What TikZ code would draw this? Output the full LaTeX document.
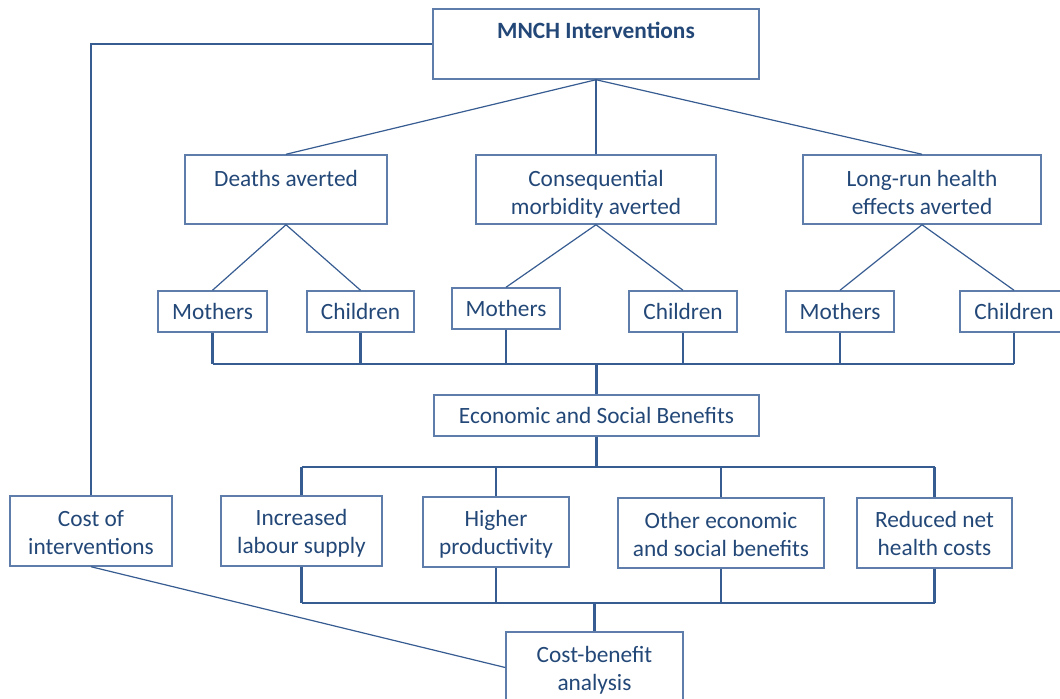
\documentclass[tikz,border=0pt]{standalone}
\usepackage{fontspec}
\setmainfont{Carlito}
\definecolor{textc}{RGB}{35,72,120}
\definecolor{boxc}{RGB}{95,125,170}
\definecolor{linec}{RGB}{55,92,145}
\newcommand{\tstrut}[1]{\rule{0pt}{#1}}
\begin{document}
\begin{tikzpicture}[x=0.75pt,y=-0.75pt,
  box/.style={draw=boxc,line width=1.1pt,fill=white,inner sep=0pt,align=center,
    text=textc,font=\fontsize{17.5}{21}\selectfont},
  thin/.style={draw=linec,line width=0.9pt},
  bus/.style={draw=linec,line width=1.7pt}]
\useasboundingbox (0,0) rectangle (1060,699);
\clip (0,0) rectangle (1060,699);
% nodes
\node[box,minimum width=244.5pt,minimum height=52.5pt] (mnch) at (596,44) {\textbf{MNCH Interventions}\\\mbox{}};
\node[box,minimum width=151.5pt,minimum height=51.75pt] (deaths) at (286,189.5) {\tstrut{16pt}Deaths averted\\\mbox{}};
\node[box,minimum width=180pt,minimum height=51.75pt] (morb) at (596,189.5) {\tstrut{19pt}Consequential\\morbidity averted};
\node[box,minimum width=178.5pt,minimum height=51.75pt] (longrun) at (922,189.5) {\tstrut{16pt}Long-run health\\effects averted};
\node[box,minimum width=81.75pt,minimum height=30.75pt] (m1) at (212.5,311.5) {Mothers};
\node[box,minimum width=80.25pt,minimum height=30.75pt] (c1) at (360.5,311.5) {Children};
\node[box,minimum width=81pt,minimum height=30.75pt] (m2) at (506,308.5) {Mothers};
\node[box,minimum width=81pt,minimum height=30.75pt] (c2) at (683,311.5) {Children};
\node[box,minimum width=81pt,minimum height=30.75pt] (m3) at (840,311.5) {Mothers};
\node[box,minimum width=81pt,minimum height=30.75pt] (c3) at (1014,311.5) {Children};
\node[box,minimum width=243.75pt,minimum height=30.75pt] (econ) at (596.5,415.5) {Economic and Social Benefits};
\node[box,minimum width=121.5pt,minimum height=52.5pt] (cost) at (91,531) {\tstrut{15pt}Cost of\\interventions};
\node[box,minimum width=120.75pt,minimum height=52.5pt] (labour) at (301.5,531) {\tstrut{16pt}Increased\\labour supply};
\node[box,minimum width=109.5pt,minimum height=52.5pt] (prod) at (496,532) {\tstrut{15pt}Higher\\productivity};
\node[box,minimum width=154.5pt,minimum height=52.5pt] (other) at (721,533) {\tstrut{14.5pt}Other economic\\and social benefits};
\node[box,minimum width=116.25pt,minimum height=52.5pt] (reduced) at (934.5,533) {Reduced net\\health costs};
\node[box,minimum width=132.75pt,minimum height=53.25pt] (cba) at (594.5,667.5) {\tstrut{16pt}Cost-benefit\\analysis};
% bus coordinates
\coordinate (bus1) at (596.5,364);
\coordinate (bus2) at (596.5,467);
\coordinate (bus3) at (594.5,603);
% connectors
\draw[thin] (mnch.west) -| (cost.north);
\draw[thin] (mnch.south) -- (deaths.north);
\draw[bus] (mnch.south) -- (morb.north);
\draw[thin] (mnch.south) -- (longrun.north);
\draw[thin] (deaths.south) -- (m1.north);
\draw[thin] (deaths.south) -- (c1.north);
\draw[thin] (morb.south) -- (m2.north);
\draw[thin] (morb.south) -- (c2.north);
\draw[thin] (longrun.south) -- (m3.north);
\draw[thin] (longrun.south) -- (c3.north);
% bus 1
\draw[bus] (m1.south) -- (m1.south |- bus1);
\draw[bus] (c1.south) -- (c1.south |- bus1);
\draw[thin] (m2.south) -- (m2.south |- bus1);
\draw[bus] (c2.south) -- (c2.south |- bus1);
\draw[bus] (m3.south) -- (m3.south |- bus1);
\draw[bus] (c3.south) -- (c3.south |- bus1);
\draw[bus] (m1.south |- bus1) -- (c3.south |- bus1);
\draw[bus] (bus1) -- (econ.north);
% bus 2
\draw[bus] (econ.south) -- (bus2);
\draw[bus] (labour.north |- bus2) -- (reduced.north |- bus2);
\draw[bus] (labour.north |- bus2) -- (labour.north);
\draw[bus] (prod.north |- bus2) -- (prod.north);
\draw[thin] (other.north |- bus2) -- (other.north);
\draw[bus] (reduced.north |- bus2) -- (reduced.north);
% bus 3
\draw[bus] (labour.south) -- (labour.south |- bus3);
\draw[bus] (prod.south) -- (prod.south |- bus3);
\draw[bus] (other.south) -- (other.south |- bus3);
\draw[bus] (reduced.south) -- (reduced.south |- bus3);
\draw[bus] (labour.south |- bus3) -- (reduced.south |- bus3);
\draw[bus] (bus3) -- (cba.north);
\draw[thin] (cost.south) -- (cba.west);
\end{tikzpicture}
\end{document}
